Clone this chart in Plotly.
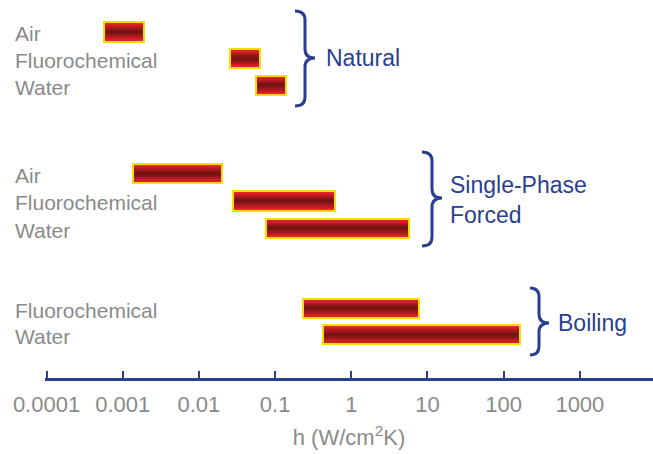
import plotly.graph_objects as go

# ---- data ----
categories = ["Air", "Fluorochemical", "Water",
              "Air", "Fluorochemical", "Water",
              "Fluorochemical", "Water"]
groups = ["Natural", "Natural", "Natural",
          "Single-Phase<br>Forced", "Single-Phase<br>Forced", "Single-Phase<br>Forced",
          "Boiling", "Boiling"]
h_low = [0.00056, 0.0253, 0.0561, 0.00135, 0.0277, 0.076, 0.23, 0.42]
h_high = [0.00188, 0.0626, 0.140, 0.0199, 0.617, 5.8, 7.8, 165]
tick_vals = [0.0001, 0.001, 0.01, 0.1, 1, 10, 100, 1000]
tick_text = ["0.0001", "0.001", "0.01", "0.1", "1", "10", "100", "1000"]

# ---- layout helpers ----
W, H = 653, 454
PLOT_BOTTOM = 378  # pixel y of the axis line
row_pos = [0, 1, 2, 5.33, 6.35, 7.37, 10.38, 11.38]
Y_RANGE = [13.0, -1.2]

BLUE = "#2b3f8f"
GRAY = "#8a8a8a"
FONT = "Liberation Sans, Arial"

lengths = [hi - lo for lo, hi in zip(h_low, h_high)]

fig = go.Figure()

# gradient layers (outer bright -> inner dark)
layers = [(0.72, "#ea242b"), (0.62, "#de2128"), (0.52, "#cc1d23"), (0.42, "#b81a20"),
          (0.33, "#a3181c"), (0.24, "#901719"), (0.15, "#801517"), (0.07, "#761414")]
for wdt, col in layers:
    fig.add_trace(go.Bar(
        y=row_pos, x=lengths, base=h_low, orientation="h",
        width=wdt, marker=dict(color=col, line=dict(width=0)),
        hoverinfo="skip", showlegend=False))
# yellow outline on top
fig.add_trace(go.Bar(
    y=row_pos, x=lengths, base=h_low, orientation="h",
    width=0.72, marker=dict(color="rgba(0,0,0,0)", line=dict(color="#f6de00", width=2)),
    customdata=categories, hovertemplate="%{customdata}: %{base} - %{x}<extra></extra>",
    showlegend=False))

def py(pix):
    return 1 - pix / PLOT_BOTTOM

def px(pix):
    return pix / W

# category labels
for cat, yp in zip(categories, row_pos):
    fig.add_annotation(x=13 / W, xref="paper", y=yp, yref="y", text=cat,
                       showarrow=False, xanchor="left", yanchor="middle", yshift=-2,
                       font=dict(size=21, color=GRAY, family=FONT))

# braces
def brace(xh, xv, xt, ytop, ybot, ymid):
    r = 9
    pts = (f"M {px(xh)},{py(ytop)} "
           f"Q {px(xv)},{py(ytop)} {px(xv)},{py(ytop + r)} "
           f"L {px(xv)},{py(ymid - r)} "
           f"Q {px(xv)},{py(ymid)} {px(xt)},{py(ymid)} "
           f"Q {px(xv)},{py(ymid)} {px(xv)},{py(ymid + r)} "
           f"L {px(xv)},{py(ybot - r)} "
           f"Q {px(xv)},{py(ybot)} {px(xh)},{py(ybot)}")
    fig.add_shape(type="path", path=pts, xref="paper", yref="paper",
                  line=dict(color=BLUE, width=3))

brace(295, 305, 315, 11, 106, 58)
brace(422, 432, 442, 152, 246, 198)
brace(530, 539, 549, 288, 355, 323)

group_labels = [("Natural", 324, 58), ("Single-Phase<br>Forced", 448, 200), ("Boiling", 556, 323)]
for txt, x0, y0 in group_labels:
    fig.add_annotation(x=px(x0), xref="paper", y=py(y0), yref="paper", text=txt,
                       showarrow=False, xanchor="left", yanchor="middle", align="left",
                       font=dict(size=23, color=BLUE, family=FONT))

fig.update_layout(
    width=W, height=H,
    margin=dict(l=0, r=0, t=0, b=H - PLOT_BOTTOM, pad=0, autoexpand=False),
    paper_bgcolor="white", plot_bgcolor="white",
    barmode="overlay", bargap=0,
    xaxis=dict(type="log", domain=[45 / W, 1], range=[-4.02, 3.96], automargin=False,
               tickvals=tick_vals, ticktext=tick_text,
               showline=True, linecolor=BLUE, linewidth=3,
               ticks="inside", tickcolor=BLUE, tickwidth=2, ticklen=7,
               ticklabelstandoff=5,
               showgrid=False, zeroline=False,
               tickfont=dict(size=22, color=GRAY, family=FONT),
               title=dict(text="h (W/cm<sup>2</sup>K)", standoff=14,
                          font=dict(size=22, color=GRAY, family=FONT))),
    yaxis=dict(range=Y_RANGE, visible=False, showgrid=False, zeroline=False, automargin=False),
)

fig.write_html("out.html", config={"displayModeBar": False},
               post_script="document.body.style.margin='0';document.body.style.padding='0';")
